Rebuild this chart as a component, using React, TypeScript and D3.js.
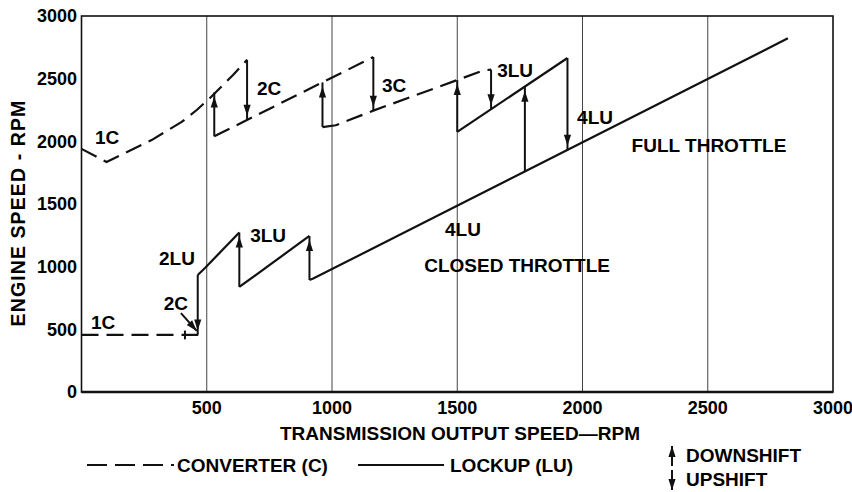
import React, { useRef, useEffect } from 'react';
import * as d3 from 'd3';

const xTicks = [500, 1000, 1500, 2000, 2500, 3000];
const yTicks = [0, 500, 1000, 1500, 2000, 2500, 3000];
const gridRpm = [500, 1000, 1500, 2000, 2500];

// [output rpm, engine rpm]
// converter runs (dashed)
const full1C = [[0, 1940], [100, 1835], [280, 2010], [400, 2155], [460, 2250], [515, 2350], [605, 2530], [661, 2650]];
const full2C = [[530, 2040], [1165, 2673]];
const full3C = [[962, 2114], [1015, 2128], [1165, 2245], [1500, 2489], [1605, 2566], [1635, 2572]];
const closed1C = [[0, 455], [466, 455]];

// lockup runs (solid)
const full3LU = [[1500, 2075], [1940, 2665]];
const lockup4LU = [[910, 894], [925, 905], [2820, 2822]];
const closed2LU = [[464, 934], [493, 990], [630, 1272]];
const closed3LU = [[630, 838], [910, 1245]];

// shift arrows: [output rpm, engine rpm start, engine rpm where the head points]
const shifts = [
    [530, 2040, 2390],
    [661, 2650, 2172],
    [962, 2114, 2470],
    [1165, 2673, 2245],
    [1500, 2075, 2489],
    [1635, 2572, 2256],
    [1770, 1760, 2435],
    [1940, 2665, 1932],
    [464, 934, 458],
    [630, 838, 1272],
    [910, 894, 1245],
];

const labels = [
    ['1C', 102, 2035],
    ['2C', 749, 2426],
    ['3C', 1248, 2450],
    ['3LU', 1731, 2569],
    ['4LU', 2050, 2194],
    ['FULL THROTTLE', 2505, 1971],
    ['4LU', 1523, 1300],
    ['CLOSED THROTTLE', 1739, 1013],
    ['2LU', 381, 1069],
    ['3LU', 745, 1253],
    ['2C', 377, 710],
    ['1C', 86, 559],
];

const FONT = '"Liberation Sans", Arial, sans-serif';

const ShiftChart = () => {
    const svgRef = useRef<SVGSVGElement>(null);

    useEffect(() => {
        if (!svgRef.current) return;
        document.body.style.margin = '0';

        const width = 852;
        const height = 492;
        const x = d3.scaleLinear().domain([0, 3000]).range([81.5, 833]);
        const y = d3.scaleLinear().domain([0, 3000]).range([392, 16]);

        const svg = d3.select(svgRef.current)
            .attr('width', width)
            .attr('height', height);
        svg.selectAll('*').remove();

        svg.append('rect').attr('width', width).attr('height', height).attr('fill', '#fff');

        // vertical grid
        svg.selectAll('.grid')
            .data(gridRpm)
            .enter().append('line')
            .attr('x1', d => x(d)).attr('x2', d => x(d))
            .attr('y1', y(3000)).attr('y2', y(0))
            .attr('stroke', '#444')
            .attr('stroke-width', 1);

        // frame
        svg.append('rect')
            .attr('x', x(0)).attr('y', y(3000))
            .attr('width', x(3000) - x(0)).attr('height', y(0) - y(3000))
            .attr('fill', 'none')
            .attr('stroke', '#111')
            .attr('stroke-width', 1.6);
        svg.append('line')
            .attr('x1', x(0)).attr('x2', x(3000))
            .attr('y1', y(0)).attr('y2', y(0))
            .attr('stroke', '#111').attr('stroke-width', 2.4);

        // tick labels
        svg.selectAll('.ytick')
            .data(yTicks)
            .enter().append('text')
            .attr('x', 77)
            .attr('y', d => y(d))
            .attr('dy', '0.35em')
            .attr('text-anchor', 'end')
            .style('font-family', FONT).style('font-weight', 'bold').style('font-size', '18px')
            .text(d => d);

        svg.selectAll('.xtick')
            .data(xTicks)
            .enter().append('text')
            .attr('x', d => x(d))
            .attr('y', 408)
            .attr('dy', '0.35em')
            .attr('text-anchor', 'middle')
            .style('font-family', FONT).style('font-weight', 'bold').style('font-size', '18px')
            .text(d => d);

        svg.append('text')
            .attr('x', 460).attr('y', 433).attr('dy', '0.35em')
            .attr('text-anchor', 'middle')
            .style('font-family', FONT).style('font-weight', 'bold').style('font-size', '19px')
            .text('TRANSMISSION OUTPUT SPEED—RPM');

        svg.append('text')
            .attr('transform', 'translate(18,213) rotate(-90)')
            .attr('dy', '0.35em')
            .attr('text-anchor', 'middle')
            .style('font-family', FONT).style('font-weight', 'bold').style('font-size', '19.5px')
            .style('letter-spacing', '1.1px')
            .text('ENGINE SPEED - RPM');

        const line = d3.line<number[]>().x(d => x(d[0])).y(d => y(d[1]));

        [full1C, full2C, full3C, closed1C].forEach(run => {
            svg.append('path')
                .attr('d', line(run))
                .attr('fill', 'none')
                .attr('stroke', '#111')
                .attr('stroke-width', 2.2)
                .attr('stroke-dasharray', '17,8');
        });

        [full3LU, lockup4LU, closed2LU, closed3LU].forEach(run => {
            svg.append('path')
                .attr('d', line(run))
                .attr('fill', 'none')
                .attr('stroke', '#111')
                .attr('stroke-width', 2.2)
                .attr('stroke-linejoin', 'miter');
        });

        // small stop tick on the closed throttle 1C run
        svg.append('line')
            .attr('x1', x(413)).attr('x2', x(413))
            .attr('y1', y(420)).attr('y2', y(490))
            .attr('stroke', '#111').attr('stroke-width', 2);

        const head = (tx: number, ty: number, dx: number, dy: number) => {
            const len = 11, half = 3.6;
            const bx = tx - dx * len, by = ty - dy * len;
            return `M${tx},${ty}L${bx - dy * half},${by + dx * half}L${bx + dy * half},${by - dx * half}Z`;
        };

        shifts.forEach(([rpm, from, to]) => {
            const px = x(rpm);
            const y0 = y(from), y1 = y(to);
            const dir = y1 < y0 ? -1 : 1;
            svg.append('line')
                .attr('x1', px).attr('x2', px)
                .attr('y1', y0).attr('y2', y1)
                .attr('stroke', '#111').attr('stroke-width', 2);
            svg.append('path')
                .attr('d', head(px, y1 - dir * 4, 0, dir))
                .attr('fill', '#111');
        });

        // leader pointing at the closed throttle 2C shift
        const lx0 = x(397), ly0 = y(630), lx1 = x(460), ly1 = y(487);
        const ll = Math.hypot(lx1 - lx0, ly1 - ly0);
        svg.append('line')
            .attr('x1', lx0).attr('y1', ly0).attr('x2', lx1).attr('y2', ly1)
            .attr('stroke', '#111').attr('stroke-width', 2);
        svg.append('path')
            .attr('d', head(lx1, ly1, (lx1 - lx0) / ll, (ly1 - ly0) / ll))
            .attr('fill', '#111');

        svg.selectAll('.lbl')
            .data(labels)
            .enter().append('text')
            .attr('x', d => x(d[1] as number))
            .attr('y', d => y(d[2] as number))
            .attr('dy', '0.35em')
            .attr('text-anchor', 'middle')
            .style('font-family', FONT).style('font-weight', 'bold').style('font-size', '19px')
            .text(d => d[0] as string);

        // legend
        const legY = 465;
        svg.append('line')
            .attr('x1', 87).attr('x2', 174).attr('y1', legY).attr('y2', legY)
            .attr('stroke', '#111').attr('stroke-width', 2.2)
            .attr('stroke-dasharray', '20,8');
        svg.append('text')
            .attr('x', 177).attr('y', legY).attr('dy', '0.35em')
            .style('font-family', FONT).style('font-weight', 'bold').style('font-size', '19px')
            .text('CONVERTER (C)');
        svg.append('line')
            .attr('x1', 358).attr('x2', 444).attr('y1', legY).attr('y2', legY)
            .attr('stroke', '#111').attr('stroke-width', 2.2);
        svg.append('text')
            .attr('x', 450).attr('y', legY).attr('dy', '0.35em')
            .style('font-family', FONT).style('font-weight', 'bold').style('font-size', '19px')
            .text('LOCKUP (LU)');

        const ax = 672;
        svg.append('line').attr('x1', ax).attr('x2', ax).attr('y1', 446).attr('y2', 466)
            .attr('stroke', '#111').attr('stroke-width', 2);
        svg.append('path').attr('d', head(ax, 446, 0, -1)).attr('fill', '#111');
        svg.append('line').attr('x1', ax).attr('x2', ax).attr('y1', 470).attr('y2', 490)
            .attr('stroke', '#111').attr('stroke-width', 2);
        svg.append('path').attr('d', head(ax, 490, 0, 1)).attr('fill', '#111');

        svg.append('text')
            .attr('x', 686).attr('y', 455).attr('dy', '0.35em')
            .style('font-family', FONT).style('font-weight', 'bold').style('font-size', '19px')
            .text('DOWNSHIFT');
        svg.append('text')
            .attr('x', 686).attr('y', 479).attr('dy', '0.35em')
            .style('font-family', FONT).style('font-weight', 'bold').style('font-size', '19px')
            .text('UPSHIFT');
    }, []);

    return <svg ref={svgRef} style={{ display: 'block' }}></svg>;
};

export default function App() {
    return <ShiftChart />;
}
